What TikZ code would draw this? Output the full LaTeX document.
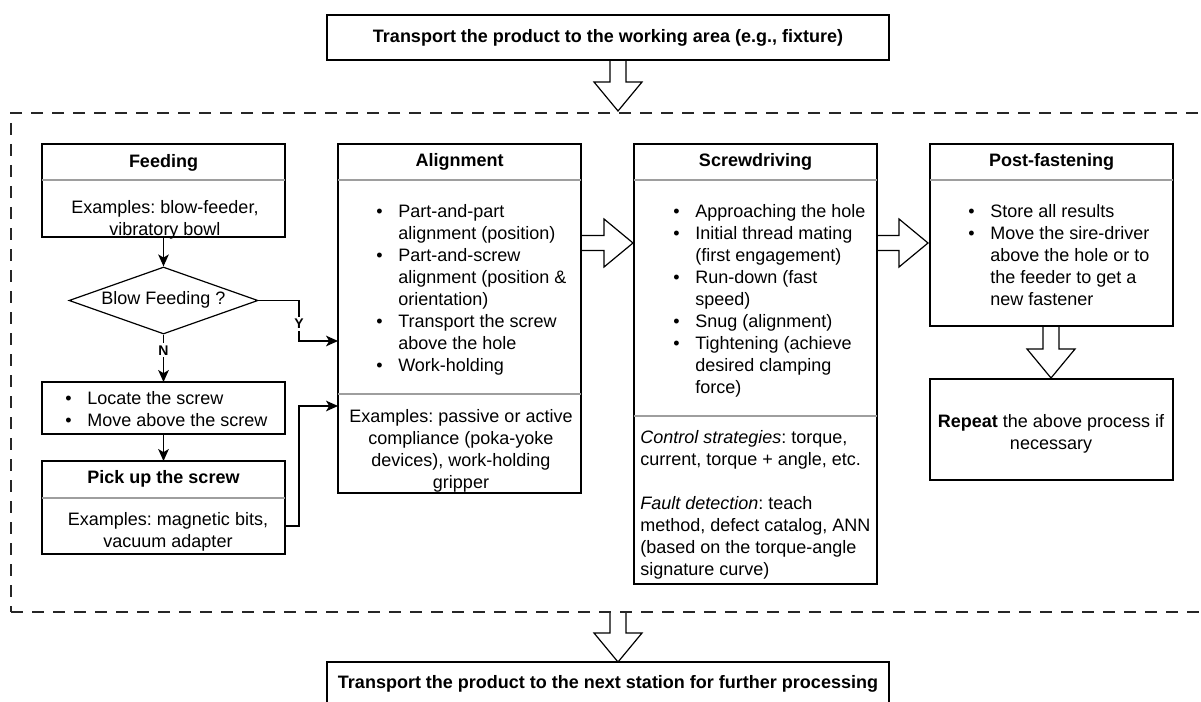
\documentclass[tikz,border=0pt]{standalone}
\usepackage{fontspec}
\setmainfont{Liberation Sans}
\usetikzlibrary{arrows.meta,shapes.geometric,fit}
\frenchspacing

% text blocks: centred lines, left lines, bulleted lines
\newcommand{\ctrlines}[1]{\begin{tabular}[t]{@{}c@{}}#1\end{tabular}}
\newcommand{\lftlines}[1]{\begin{tabular}[t]{@{}l@{}}#1\end{tabular}}
\newcommand{\bullist}[1]{\begin{tabular}[t]{@{}p{16.5pt}@{}l@{}}#1\end{tabular}}

% hollow block arrows (centre, start, tip)
\newcommand{\flexdown}[3]{%
  \draw[flex] (#1-8,#2) -- (#1-8,#3-29) -- (#1-24,#3-29) -- (#1,#3)
    -- (#1+24,#3-29) -- (#1+8,#3-29) -- (#1+8,#2);}
\newcommand{\flexright}[3]{%
  \draw[flex] (#2,#1-7.5) -- (#3-29,#1-7.5) -- (#3-29,#1-24) -- (#3,#1)
    -- (#3-29,#1+24) -- (#3-29,#1+7.5) -- (#2,#1+7.5);}

\tikzset{
  base/.style={font=\fontsize{13.5pt}{16.5pt}\selectfont, inner sep=0pt},
  txt/.style={base, anchor=north},
  ttl/.style={base, anchor=north, font=\fontsize{13.5pt}{16.5pt}\selectfont\bfseries},
  lst/.style={base, anchor=north west},
  frame/.style={draw=black, line width=0.9pt, inner sep=0pt, outer sep=0pt},
  zone/.style={inner sep=0pt, outer sep=0pt},
  stage/.style={draw=black!85, line width=0.9pt, dash pattern=on 9pt off 6.75pt, inner sep=0pt},
  divider/.style={draw=black!38, line width=0.9pt},
  flow/.style={draw=black, line width=0.9pt, -{Stealth[length=9pt,width=8pt,inset=2.4pt]}},
  flex/.style={draw=black, line width=0.9pt, fill=white, line join=miter},
  branch/.style={font=\fontsize{10.5pt}{12pt}\selectfont\bfseries, fill=white, inner sep=1.5pt},
}

\begin{document}
\begin{tikzpicture}[x=0.75pt,y=-0.75pt]
\useasboundingbox (0,0) rectangle (1201,702);

% hollow arrows between the stages
\flexdown{618}{60}{111}
\flexright{243}{581}{633}
\flexright{243}{877}{928}
\flexdown{1051}{326}{378}
\flexdown{618}{612}{662}

% dashed frame around the fastening cell
\node[stage, fit={(11,113) (1216,612)}] (stage) {};

% incoming and outgoing transport
\node[frame, fit={(327,15) (889,60)}] (arrive) {};
\node[ttl] (arriveT) at (608,29.5) {Transport the product to the working area (e.g., fixture)};
\node[frame, fit={(327,662) (889,706)}] (leave) {};
\node[ttl] (leaveT) at (608,675) {Transport the product to the next station for further processing};

% feeding
\node[frame, fit={(42,144) (285,237)}] (feed) {};
\draw[divider] (42,180) -- (285,180);
\node[ttl] (feedT) at (163.5,154.5) {Feeding};
\node[txt] (feedB) at (165,197.5) {\ctrlines{Examples: blow-feeder,\\vibratory bowl}};

% decision
\node[diamond, draw=black, line width=0.9pt, minimum width=141.75pt,
      minimum height=50.25pt, inner sep=0pt] (blow) at (163.5,300.5) {};
\node[base] (blowT) at (163.5,300) {Blow Feeding ?};

% locate and pick up
\node[frame, fit={(42,382) (285,434)}] (locate) {};
\node[lst] (locateL) at (65,388.5) {\bullist{\textbullet & Locate the screw\\
  \textbullet & Move above the screw}};
\node[frame, fit={(42,461) (285,554)}] (pick) {};
\node[zone, fit={(42,498) (285,554)}] (pickB) {};
\draw[divider] (42,498) -- (285,498);
\node[ttl] (pickT) at (163.5,470.5) {Pick up the screw};
\node[txt] (pickX) at (168,509.5) {\ctrlines{Examples: magnetic bits,\\vacuum adapter}};

% alignment
\node[frame, fit={(338,144) (581,493)}] (align) {};
\draw[divider] (338,180) -- (581,180);
\draw[divider] (338,394) -- (581,394);
\node[ttl] (alignT) at (459.5,153.5) {Alignment};
\node[lst] (alignL) at (376,201.5) {\bullist{\textbullet & Part-and-part\\
  & alignment (position)\\
  \textbullet & Part-and-screw\\
  & alignment (position \&\\
  & orientation)\\
  \textbullet & Transport the screw\\
  & above the hole\\
  \textbullet & Work-holding}};
\node[txt] (alignX) at (461,406.5) {\ctrlines{Examples: passive or active\\
  compliance (poka-yoke\\devices), work-holding\\gripper}};

% screwdriving
\node[frame, fit={(634,144) (877,584)}] (screw) {};
\draw[divider] (634,180) -- (877,180);
\draw[divider] (634,416) -- (877,416);
\node[ttl] (screwT) at (755.5,153.5) {Screwdriving};
\node[lst] (screwL) at (673,201.5) {\bullist{\textbullet & Approaching the hole\\
  \textbullet & Initial thread mating\\
  & (first engagement)\\
  \textbullet & Run-down (fast\\
  & speed)\\
  \textbullet & Snug (alignment)\\
  \textbullet & Tightening (achieve\\
  & desired clamping\\
  & force)}};
\node[lst] (screwN) at (640,427.5) {\lftlines{\textit{Control strategies}: torque,\\
  current, torque + angle, etc.\\
  \\
  \textit{Fault detection}: teach\\
  method, defect catalog, ANN\\
  (based on the torque-angle\\
  signature curve)}};

% post-fastening
\node[frame, fit={(930,144) (1173,326)}] (post) {};
\draw[divider] (930,180) -- (1173,180);
\node[ttl] (postT) at (1051.5,153.5) {Post-fastening};
\node[lst] (postL) at (968,201.5) {\bullist{\textbullet & Store all results\\
  \textbullet & Move the sire-driver\\
  & above the hole or to\\
  & the feeder to get a\\
  & new fastener}};
\node[frame, fit={(930,379) (1173,480)}] (repeat) {};
\node[txt] (repeatT) at (1051,411.5) {\ctrlines{\textbf{Repeat} the above process if\\necessary}};

% connectors
\draw[flow] (feed.south) -- (blow.north);
\draw[flow] (blow.south) -- node[branch, pos=0.33] (nLbl) {N} (locate.north);
\draw[flow] (locate.south) -- (pick.north);
\coordinate (yBend) at (299,341);
\draw[flow] (blow.east) -| (yBend) -- (yBend -| align.west);
\node[branch] (yLbl) at (299,324) {Y};
\coordinate (pBend) at (299,406);
\draw[flow] (pickB.east) -| (pBend) -- (pBend -| align.west);
\end{tikzpicture}
\end{document}
